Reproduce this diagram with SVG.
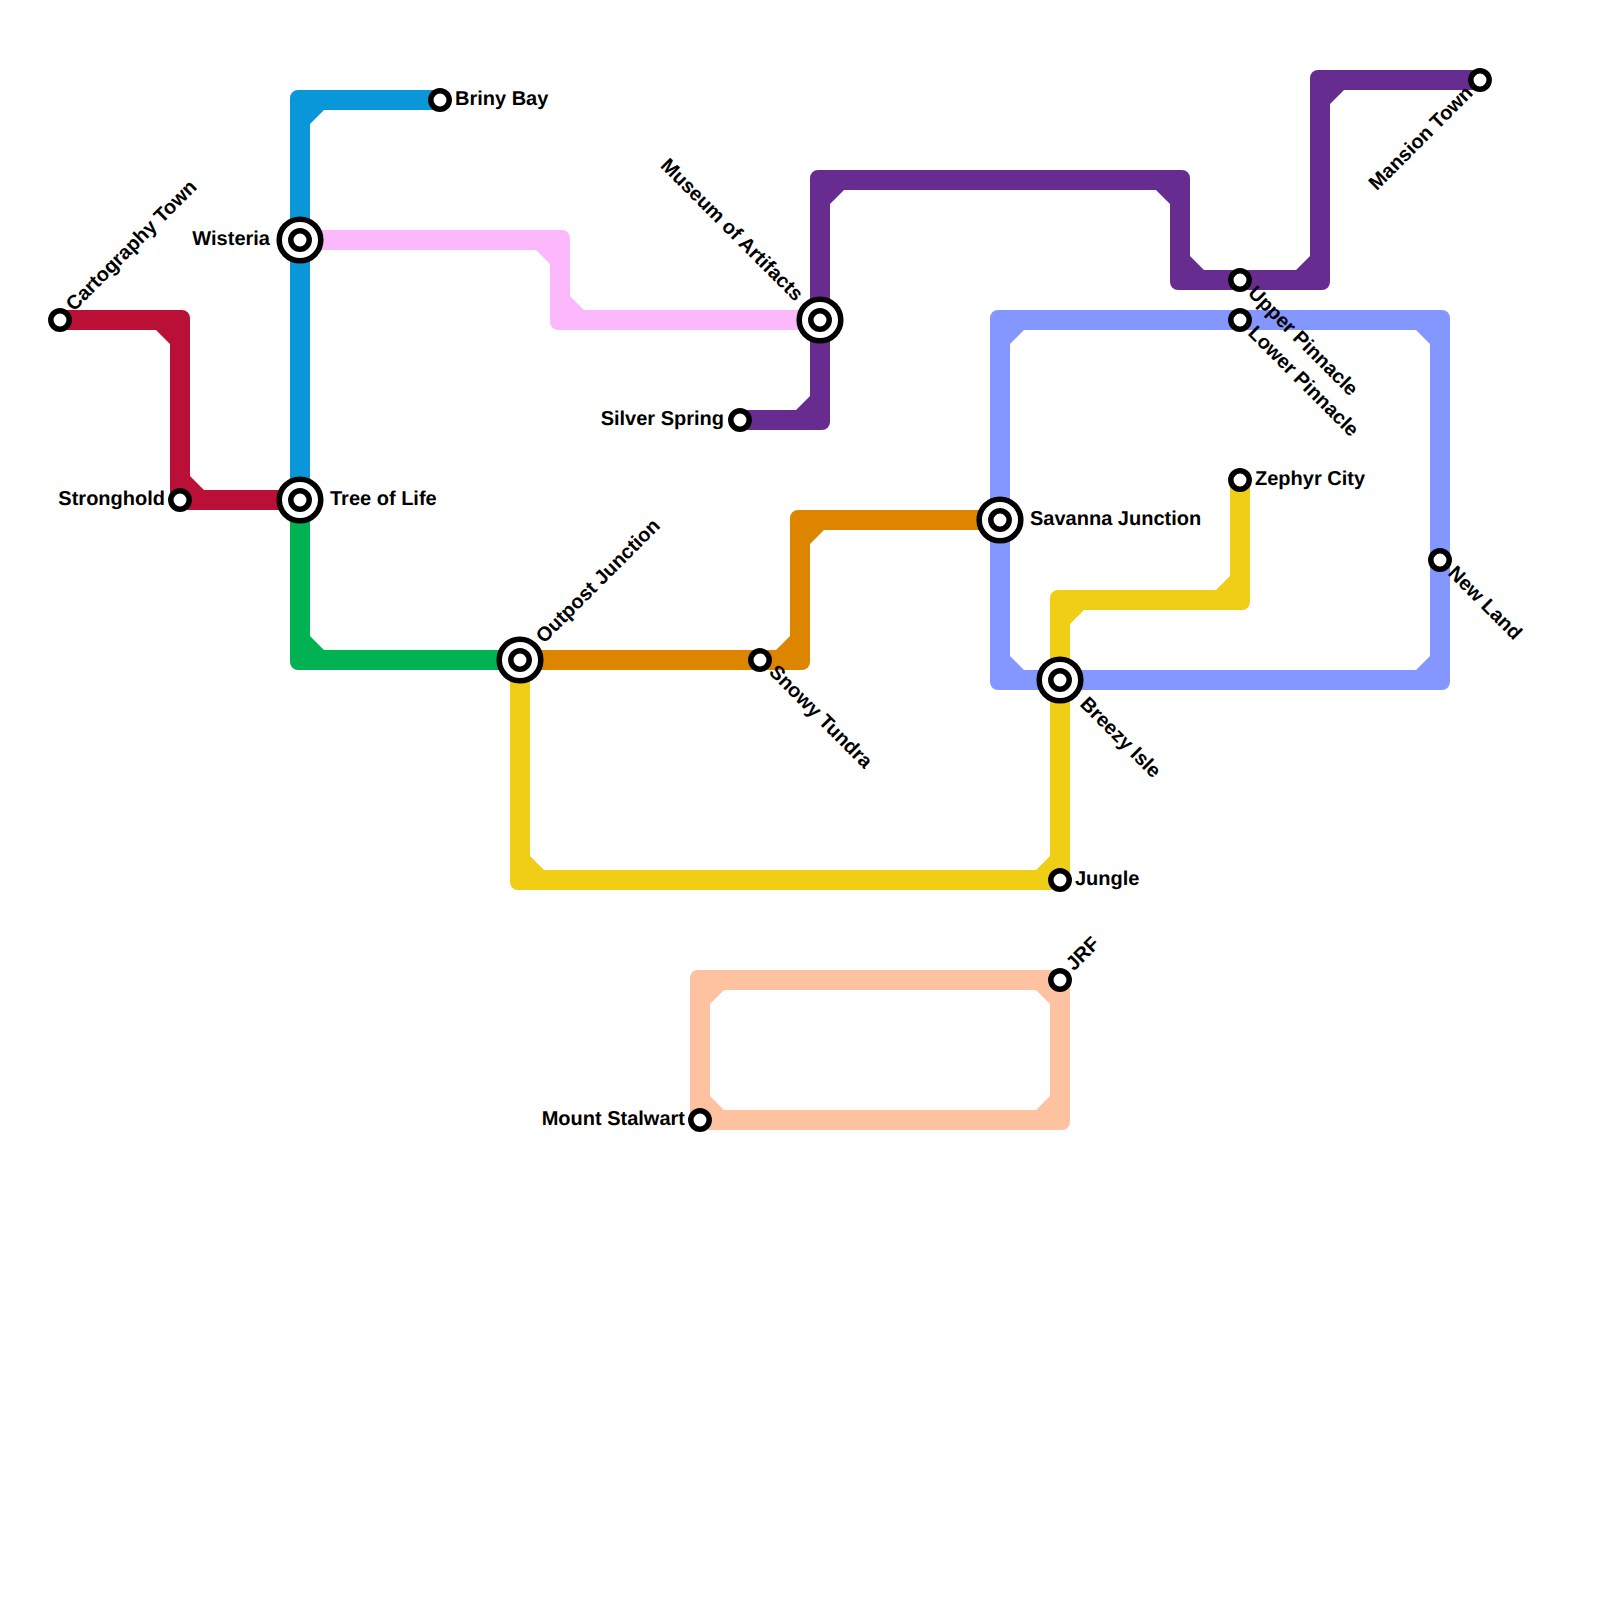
<svg xmlns="http://www.w3.org/2000/svg" width="1600" height="1600" viewBox="0 0 1600 1600">
<style>
text{font-family:"Liberation Sans",Arial,sans-serif;font-weight:700;font-size:20px;fill:#000;text-rendering:geometricPrecision}
.e{text-anchor:end}
.s{fill:#fff;stroke:#000;stroke-width:5.5}
</style>
<rect width="1600" height="1600" fill="#fff"/>
<g id="connectors" fill-rule="evenodd">
<path id="line-periwinkle" fill="#8496ff" d="M998,310H1442A8,8 0 0 1 1450,318V682A8,8 0 0 1 1442,690H998A8,8 0 0 1 990,682V318A8,8 0 0 1 998,310ZM1024,330H1416L1430,344V656L1416,670H1024L1010,656V344Z"/>
<path id="line-peach" fill="#ffc2a0" d="M698,970H1062A8,8 0 0 1 1070,978V1122A8,8 0 0 1 1062,1130H698A8,8 0 0 1 690,1122V978A8,8 0 0 1 698,970ZM724,990H1036L1050,1004V1096L1036,1110H724L710,1096V1004Z"/>
<path id="line-pink" fill="#fbb9fc" d="M300,230H562A8,8 0 0 1 570,238V296L584,310H820V330H558A8,8 0 0 1 550,322V264L536,250H300Z"/>
<path id="line-crimson" fill="#ba1038" d="M60,310H182A8,8 0 0 1 190,318V476L204,490H300V510H178A8,8 0 0 1 170,502V344L156,330H60Z"/>
<path id="line-green" fill="#00b251" d="M290,500H310V636L324,650H520V670H298A8,8 0 0 1 290,662Z"/>
<path id="line-blue" fill="#0a97d9" d="M440,90H298A8,8 0 0 0 290,98V500H310V124L324,110H440Z"/>
<path id="line-orange" fill="#de8500" d="M520,650H776L790,636V518A8,8 0 0 1 798,510H1000V530H824L810,544V662A8,8 0 0 1 802,670H520Z"/>
<path id="line-yellow" fill="#f0ce15" d="M510,660V882A8,8 0 0 0 518,890H1062A8,8 0 0 0 1070,882V624L1084,610H1242A8,8 0 0 0 1250,602V480H1230V576L1216,590H1058A8,8 0 0 0 1050,598V856L1036,870H544L530,856V660Z"/>
<path id="line-purple" fill="#662c90" d="M740,410H796L810,396V178A8,8 0 0 1 818,170H1182A8,8 0 0 1 1190,178V256L1204,270H1296L1310,256V78A8,8 0 0 1 1318,70H1480V90H1344L1330,104V282A8,8 0 0 1 1322,290H1178A8,8 0 0 1 1170,282V204L1156,190H844L830,204V422A8,8 0 0 1 822,430H740Z"/>
</g>
<g id="cartography-town"><circle class="s" cx="60" cy="320" r="9.2"/><text transform="translate(74,312) rotate(-45)">Cartography Town</text></g>
<g id="briny-bay"><circle class="s" cx="440" cy="100" r="9.2"/><text x="455" y="105">Briny Bay</text></g>
<g id="wisteria"><circle class="s" cx="300" cy="240" r="20.8"/><circle class="s" cx="300" cy="240" r="9.2"/><text class="e" x="270" y="245">Wisteria</text></g>
<g id="tree-of-life"><circle class="s" cx="300" cy="500" r="20.8"/><circle class="s" cx="300" cy="500" r="9.2"/><text x="330" y="505">Tree of Life</text></g>
<g id="stronghold"><circle class="s" cx="180" cy="500" r="9.2"/><text class="e" x="165" y="505">Stronghold</text></g>
<g id="outpost-junction"><circle class="s" cx="520" cy="660" r="20.8"/><circle class="s" cx="520" cy="660" r="9.2"/><text transform="translate(544,644) rotate(-45)">Outpost Junction</text></g>
<g id="snowy-tundra"><circle class="s" cx="760" cy="660" r="9.2"/><text transform="translate(768,673) rotate(45)">Snowy Tundra</text></g>
<g id="silver-spring"><circle class="s" cx="740" cy="420" r="9.2"/><text class="e" x="724" y="425">Silver Spring</text></g>
<g id="museum-of-artifacts"><circle class="s" cx="820" cy="320" r="20.8"/><circle class="s" cx="820" cy="320" r="9.2"/><text class="e" transform="translate(795,302) rotate(45)">Museum of Artifacts</text></g>
<g id="savanna-junction"><circle class="s" cx="1000" cy="520" r="20.8"/><circle class="s" cx="1000" cy="520" r="9.2"/><text x="1030" y="525">Savanna Junction</text></g>
<g id="breezy-isle"><circle class="s" cx="1060" cy="680" r="20.8"/><circle class="s" cx="1060" cy="680" r="9.2"/><text transform="translate(1079,705) rotate(45)">Breezy Isle</text></g>
<g id="jungle"><circle class="s" cx="1060" cy="880" r="9.2"/><text x="1075" y="885">Jungle</text></g>
<g id="jrf"><circle class="s" cx="1060" cy="980" r="9.2"/><text transform="translate(1074,971.5) rotate(-45)">JRF</text></g>
<g id="mount-stalwart"><circle class="s" cx="700" cy="1120" r="9.2"/><text class="e" x="685" y="1125">Mount Stalwart</text></g>
<g id="upper-pinnacle"><circle class="s" cx="1240" cy="280" r="9.2"/><text transform="translate(1247,294) rotate(45)">Upper Pinnacle</text></g>
<g id="lower-pinnacle"><circle class="s" cx="1240" cy="320" r="9.2"/><text transform="translate(1247,334) rotate(45)">Lower Pinnacle</text></g>
<g id="zephyr-city"><circle class="s" cx="1240" cy="480" r="9.2"/><text x="1255" y="485">Zephyr City</text></g>
<g id="new-land"><circle class="s" cx="1440" cy="560" r="9.2"/><text transform="translate(1447,574) rotate(45)">New Land</text></g>
<g id="mansion-town"><circle class="s" cx="1480" cy="80" r="9.2"/><text class="e" transform="translate(1474,94) rotate(-45)">Mansion Town</text></g>
</svg>
